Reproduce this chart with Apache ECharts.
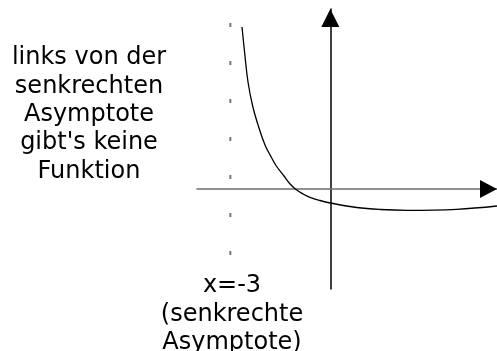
<!DOCTYPE html>
<html>
<head>
<meta charset="utf-8">
<script src="https://cdn.jsdelivr.net/npm/echarts@6/dist/echarts.min.js"></script>
<style>
html,body{margin:0;padding:0;background:#fff;}
#c{width:497px;height:351px;}
</style>
</head>
<body>
<div id="c"></div>
<script>
// Curve samples
const curveX = [-2.65, -2.57, -2.47, -2.33, -2.15, -1.96, -1.79, -1.63, -1.39, -1.22, -1.04, -0.82, -0.61, -0.31, 0, 0.79, 1.49, 2.29, 3.79, 5.0];
const curveY = [4.86, 4.08, 3.21, 2.49, 1.86, 1.32, 0.99, 0.705, 0.39, 0.165, -0.01, -0.15, -0.25, -0.345, -0.42, -0.555, -0.615, -0.64, -0.61, -0.51];
// Vertical asymptote x = -3 (dotted)
const asymptoteX = -3;
const asymptoteY = [-1.98, 5.01];
// Axis ranges
const xRange = [-4, 5];
const yRange = [-3, 5.4];
// Texts
const leftText = ["links von der", "senkrechten", "Asymptote", "gibt's keine", "Funktion"];
const bottomText = ["x=-3", "(senkrechte", "Asymptote)"];

const curveData = curveX.map((x, i) => [x, curveY[i]]);
const asymData = asymptoteY.map(y => [asymptoteX, y]);

const chart = echarts.init(document.getElementById('c'), null, {renderer: 'canvas'});
chart.setOption({
  animation: false,
  backgroundColor: '#fff',
  grid: {left: 197, right: 0, top: 9, bottom: 62, containLabel: false},
  xAxis: {
    type: 'value', min: xRange[0], max: xRange[1],
    axisLine: {show: true, onZero: true, lineStyle: {color: '#6e6e6e', width: 1.6}},
    axisTick: {show: false}, axisLabel: {show: false}, splitLine: {show: false}
  },
  yAxis: {
    type: 'value', min: yRange[0], max: yRange[1],
    axisLine: {show: true, onZero: true, symbol: ['none', 'triangle'], symbolSize: [18, 18], symbolOffset: [0, -9],
      lineStyle: {color: '#000', width: 1.5}},
    axisTick: {show: false}, axisLabel: {show: false}, splitLine: {show: false}
  },
  series: [
    {
      type: 'line', data: curveData, smooth: 0.4, showSymbol: false, symbol: 'none',
      lineStyle: {color: '#000', width: 1.3}, z: 5,
      markPoint: {
        symbol: 'triangle', symbolSize: [18, 17], symbolRotate: -90, symbolOffset: [-8.5, 0],
        itemStyle: {color: '#000'}, label: {show: false}, silent: true,
        data: [{coord: [xRange[1], 0]}]
      }
    },
    {
      type: 'line', data: asymData, showSymbol: false, symbol: 'none',
      lineStyle: {color: '#777', width: 2, type: [4, 34]}, z: 3
    }
  ],
  graphic: [
    {
      type: 'text', x: 89, y: 44,
      style: {text: leftText.join('\n'), font: '24px "DejaVu Sans"', fill: '#000',
        align: 'center', verticalAlign: 'top', lineHeight: 28.3}
    },
    {
      type: 'text', x: 232, y: 272,
      style: {text: bottomText.join('\n'), font: '24px "DejaVu Sans"', fill: '#000',
        align: 'center', verticalAlign: 'top', lineHeight: 28.3}
    }
  ]
});
</script>
</body>
</html>
